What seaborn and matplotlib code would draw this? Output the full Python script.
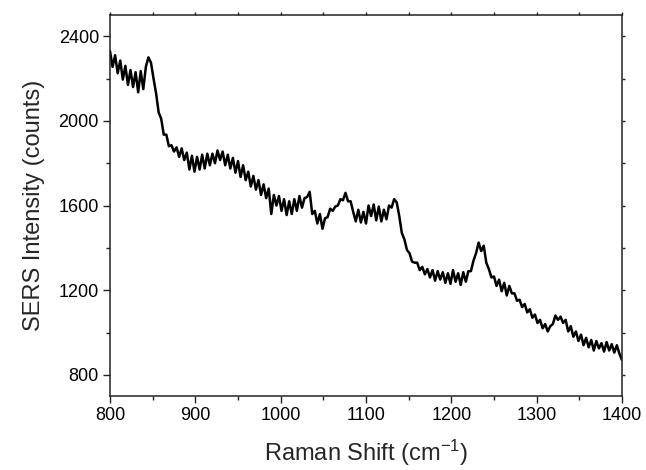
import numpy as np
import pandas as pd
import seaborn as sns
from matplotlib import pyplot as plt
from matplotlib.ticker import MultipleLocator

# Raman shift (cm-1), every 3 cm-1 from 800 to 1400
shift = np.arange(800, 1401, 3)

# SERS intensity (counts)
intensity = [
    2330, 2255, 2310, 2225, 2285, 2195, 2260, 2170, 2240, 2160,
    2230, 2135, 2235, 2150, 2255, 2300, 2275, 2200, 2130, 2040,
    2010, 1935, 1935, 1880, 1885, 1855, 1875, 1830, 1870, 1815,
    1850, 1770, 1835, 1760, 1830, 1770, 1840, 1775, 1845, 1790,
    1845, 1800, 1860, 1815, 1855, 1790, 1840, 1775, 1825, 1755,
    1810, 1735, 1790, 1720, 1760, 1690, 1740, 1675, 1720, 1650,
    1700, 1635, 1680, 1560, 1650, 1600, 1645, 1575, 1630, 1555,
    1620, 1560, 1630, 1575, 1645, 1590, 1635, 1640, 1665, 1560,
    1575, 1515, 1560, 1490, 1540, 1545, 1585, 1575, 1595, 1600,
    1630, 1625, 1660, 1620, 1620, 1570, 1525, 1580, 1520, 1570,
    1515, 1600, 1550, 1605, 1530, 1595, 1525, 1580, 1535, 1600,
    1590, 1630, 1615, 1550, 1470, 1440, 1390, 1375, 1335, 1330,
    1330, 1295, 1310, 1275, 1300, 1260, 1295, 1245, 1290, 1250,
    1285, 1235, 1280, 1230, 1295, 1240, 1280, 1225, 1285, 1240,
    1290, 1290, 1340, 1375, 1425, 1385, 1410, 1330, 1300, 1260,
    1265, 1220, 1250, 1195, 1235, 1175, 1220, 1185, 1185, 1150,
    1155, 1120, 1135, 1095, 1110, 1070, 1085, 1045, 1060, 1020,
    1040, 1005, 1030, 1040, 1080, 1060, 1075, 1045, 1060, 1005,
    1030, 980, 1005, 960, 990, 940, 975, 930, 965, 915,
    960, 925, 950, 910, 955, 915, 945, 905, 940, 900,
    870,
]

df = pd.DataFrame({"shift": shift, "intensity": intensity})

sns.set_style("ticks")
plt.rcParams["font.family"] = ["Liberation Sans", "DejaVu Sans"]
plt.rcParams["mathtext.fontset"] = "custom"
plt.rcParams["mathtext.rm"] = "Liberation Sans"
plt.rcParams["mathtext.it"] = "Liberation Sans:italic"

fig = plt.figure(figsize=(6.46, 4.70), dpi=100)
ax = fig.add_axes([0.1703, 0.1574, 0.7925, 0.8106])

sns.lineplot(data=df, x="shift", y="intensity", ax=ax, color="black",
             linewidth=1.8, legend=False)

ax.set_xlim(800, 1400)
ax.set_ylim(700, 2500)
ax.xaxis.set_major_locator(MultipleLocator(100))
ax.xaxis.set_minor_locator(MultipleLocator(50))
ax.yaxis.set_major_locator(MultipleLocator(400))
ax.yaxis.set_minor_locator(MultipleLocator(200))

for side in ["left", "bottom", "top", "right"]:
    ax.spines[side].set_visible(True)
    ax.spines[side].set_linewidth(1.1)
    ax.spines[side].set_color("#222222")

ax.tick_params(which="major", direction="out", length=5, width=1,
               labelsize=13, pad=3, colors="#222222", labelcolor="black",
               top=True, right=True)
ax.tick_params(which="minor", direction="out", length=3, width=1,
               colors="#222222", top=True, right=True)
ax.tick_params(which="both", labeltop=False, labelright=False)
# keep the top / right ticks short, as in the original
for t in ax.xaxis.get_ticklines(minor=False)[1::2] + ax.xaxis.get_ticklines(minor=True)[1::2]:
    t.set_markersize(2)
for t in ax.yaxis.get_ticklines(minor=False)[1::2] + ax.yaxis.get_ticklines(minor=True)[1::2]:
    t.set_markersize(2)

ax.set_xlabel("Raman Shift (cm$^{-1}$)", fontsize=17, labelpad=10)
ax.set_ylabel("SERS Intensity (counts)", fontsize=17, labelpad=10)

plt.savefig("out.png", dpi=100)
plt.close()
